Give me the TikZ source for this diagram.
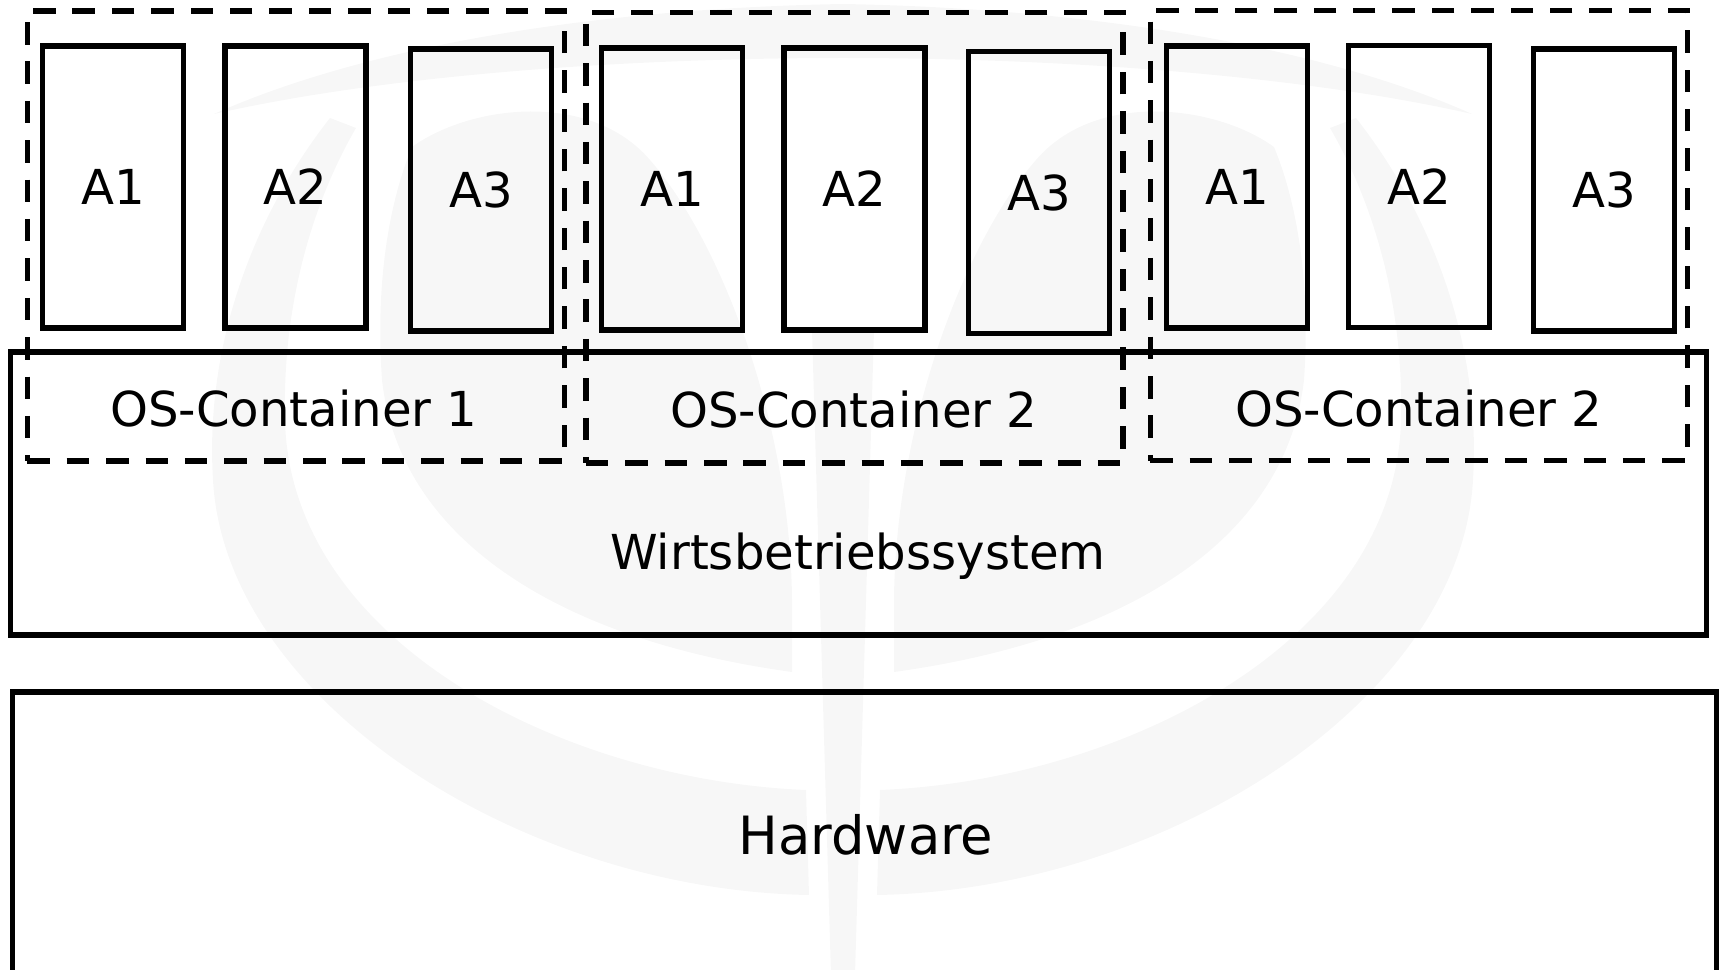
\documentclass[tikz,border=0pt]{standalone}
\usepackage{fontspec}
\setmainfont{DejaVu Sans}

\tikzset{
  app/.style={draw, line width=1.5pt, minimum width=1.41cm, minimum height=2.82cm,
    inner sep=0pt, font=\fontsize{13.7}{16}\selectfont},
  osbox/.style={draw, line width=1.6pt, dash pattern=on 6.4pt off 4.8pt,
    minimum width=5.37cm, minimum height=4.5cm, inner sep=0pt},
  layer/.style={draw, line width=1.5pt, inner sep=0pt},
  lbl/.style={anchor=base, inner sep=0pt, font=\fontsize{13.7}{16}\selectfont},
  wm/.style={fill=black!3}
}

\begin{document}
\begin{tikzpicture}[x=0.01cm, y=-0.01cm]
          \useasboundingbox (0,0) rectangle (1720,970);

          % faint logo in the background
          \fill[wm] (214,114) .. controls (380,40) and (620,8) .. (843,4)
            .. controls (1066,8) and (1306,40) .. (1472,114)
            .. controls (1300,75) and (1060,58) .. (843,58)
            .. controls (626,58) and (386,75) .. (214,114) -- cycle;
          \fill[wm] (330,118) .. controls (250,220) and (205,350) .. (213,480)
            .. controls (225,700) and (520,890) .. (809,895) -- (806,790)
            .. controls (560,780) and (290,640) .. (285,420)
            .. controls (282,290) and (320,190) .. (356,128) -- cycle;
          \fill[wm] (1356,118) .. controls (1436,220) and (1481,350) .. (1473,480)
            .. controls (1461,700) and (1166,890) .. (877,895) -- (880,790)
            .. controls (1126,780) and (1396,640) .. (1401,420)
            .. controls (1404,290) and (1366,190) .. (1330,128) -- cycle;
          \fill[wm] (412,147) .. controls (470,105) and (590,90) .. (650,160)
            .. controls (720,240) and (790,420) .. (792,599) -- (792,672)
            .. controls (560,640) and (400,540) .. (382,380)
            .. controls (375,280) and (390,200) .. (412,147) -- cycle;
          \fill[wm] (1274,147) .. controls (1216,105) and (1096,90) .. (1036,160)
            .. controls (966,240) and (896,420) .. (894,599) -- (894,672)
            .. controls (1126,640) and (1286,540) .. (1304,380)
            .. controls (1311,280) and (1296,200) .. (1274,147) -- cycle;
          \fill[wm] (812,330) -- (874,330) -- (855,975) -- (831,975) -- cycle;

          % host OS and hardware
          \node[layer, minimum width=16.95cm, minimum height=2.83cm] (host) at (858.4,493.5) {};
          \node[layer, minimum width=17.03cm, minimum height=3.2cm] (hw) at (864.5,852) {};
          \node[lbl] (hostlab) at (858,570) {Wirtsbetriebssystem};
          \node[lbl, font=\fontsize{15}{18}\selectfont] (hwlab) at (866,854) {Hardware};

          % OS containers
          \node[osbox] (cont1) at (296,236) {};
          \node[osbox] (cont2) at (854.5,237.7) {};
          \node[osbox] (cont3) at (1419,235.5) {};
          \node[lbl] (lab1) at (294,427) {OS-Container 1};
          \node[lbl] (lab2) at (854,428) {OS-Container 2};
          \node[lbl] (lab3) at (1419,427) {OS-Container 2};

          % applications
          \node[app] (c1a1) at (113,187) {A1};
          \node[app] (c1a2) at (295.5,187) {A2};
          \node[app] (c1a3) at (481,190) {A3};
          \node[app] (c2a1) at (672,189) {A1};
          \node[app] (c2a2) at (854.5,189) {A2};
          \node[app] (c2a3) at (1039,192.5) {A3};
          \node[app] (c3a1) at (1237,187) {A1};
          \node[app] (c3a2) at (1419,186.5) {A2};
          \node[app] (c3a3) at (1604,190) {A3};
        \end{tikzpicture}
\end{document}
